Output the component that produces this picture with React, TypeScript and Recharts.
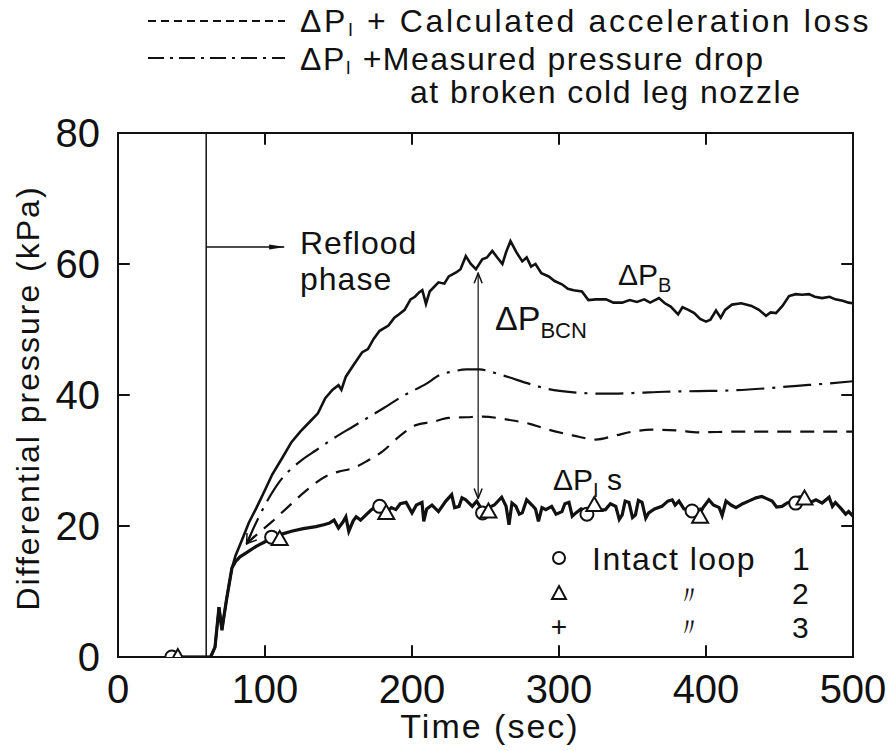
import React from "react";
import {
  ComposedChart,
  Line,
  Scatter,
  XAxis,
  YAxis,
  ReferenceLine,
  ReferenceArea,
} from "recharts";

const FONT = "'Liberation Sans', Arial, sans-serif";
const INK = "#111";

const xTicks = [0, 100, 200, 300, 400, 500];
const yTicks = [0, 20, 40, 60, 80];
const innerX = [100, 200, 300, 400];
const innerY = [20, 40, 60];

// time (s), kPa
const dpB: [number, number][] = [
  [40, 0], [60, 0], [63, 0], [66, 1.5], [68.7, 7.6], [70.7, 4.1], [72, 6.1], [74, 9], [77.5, 13.6],
  [80, 15.5], [84.4, 17.9], [89, 20.5], [94, 22.7], [100, 25.5], [105, 27.9], [112, 30.5], [118, 32.8],
  [124, 34.4], [130, 35.8], [136, 37.2], [141, 39.5], [146, 40.8], [150, 41.5], [152, 40.8], [155, 42.8],
  [160, 44.5], [166, 46.5], [170, 47], [174, 48.6], [178, 49.8], [184, 50.6], [188, 51.8], [191, 52.3],
  [195, 53], [199, 54.6], [202, 55], [205, 55.7], [207, 56], [209.5, 53.9], [212, 55.8], [218, 57.2],
  [222, 57], [225, 58.1], [230, 58.7], [233, 59.2], [236.6, 61.2], [240, 60], [243.5, 59.2], [247.8, 60.7],
  [251, 61], [254.6, 62], [258, 61], [261.5, 60], [264, 61.8], [267, 63.5], [271, 61.8], [275, 60.4],
  [278, 61], [281, 59.6], [284, 60], [288, 58.6], [293, 58.1], [297, 57.4], [302, 56.9], [306, 56.2],
  [310, 56], [315.6, 55.8], [320, 54.5], [325, 54.6], [332, 54.6], [337, 54.1], [343, 54.1], [348, 54.5],
  [353, 54.2], [358, 54.6], [362, 54.1], [368, 54.8], [372, 54], [376, 53.5], [381, 52.3], [384, 53.4],
  [388, 53], [392, 52.5], [396, 51.6], [400, 51.2], [403, 51.5], [406.8, 52.9], [410, 51.8], [413, 53],
  [417.7, 53.8], [424, 54], [431, 53.6], [436, 53], [440.8, 52.1], [444, 52.6], [447.6, 52.5], [452, 53.6],
  [456.5, 55.1], [461, 55.4], [465.3, 55.3], [470, 55.4], [474, 55], [479, 54.8], [484, 55], [488, 54.6],
  [493, 54.4], [497, 54.1], [500, 54],
];

const dpI: [number, number][] = [
  [40, 0], [60, 0], [63, 0], [66, 1.5], [68.7, 7.6], [70.7, 4.1], [72, 6.1], [74, 9], [77.5, 13.6],
  [80, 14.6], [83, 15.3], [88, 16], [94, 16.9], [100, 17.6], [106, 18.3], [112, 18.8], [118, 19.2],
  [126, 19.6], [134.6, 19.9], [140, 20.2], [143.5, 20.4], [147, 20.9], [150, 19.7], [153, 20.6], [155, 21.4],
  [157, 19.2], [160, 20.8], [162, 21.4], [165, 20.9], [168.7, 21.7], [172, 22.4], [175.5, 23], [179, 22.6],
  [183, 22.2], [186, 22.8], [189, 22.5], [192, 23.4], [196, 23.6], [200, 22], [203, 23.2], [206.8, 23.6],
  [208, 20.7], [210, 22.6], [213.6, 23.2], [218, 22.2], [223, 23.8], [227, 24.8], [229, 22.8], [232, 23],
  [234, 24.3], [236.6, 24], [241, 23], [244, 23.8], [247.6, 22.5], [252, 22.8], [256, 23.2], [261, 24.4],
  [264, 23], [266, 20.2], [268, 23.5], [270.7, 23], [273, 21.8], [275, 22], [278, 24], [281.6, 23.2],
  [284, 22.6], [286, 20.7], [288.4, 22.8], [291, 22.5], [295, 23], [298, 21.8], [302, 22.2], [304, 23.4],
  [306.8, 23.6], [309, 21.5], [311.5, 22], [315, 22.6], [319, 22.2], [323.8, 23.2], [327, 22.4], [331.6, 22.5],
  [335, 23.4], [338.6, 23], [341, 21], [343, 21.7], [345, 23.8], [347.6, 23.6], [350, 21.3], [352, 21.7],
  [354, 23.9], [356.5, 23.6], [359, 21.2], [361, 22], [365, 22.6], [370, 23], [374, 23.8], [377, 24],
  [379, 23.2], [381.6, 23.8], [385, 22.6], [390.5, 22.3], [395, 21.6], [398, 22.8], [402, 24], [405, 23.2],
  [409, 22.8], [411, 21.6], [413.6, 23.8], [417, 23.2], [420.4, 22.8], [425, 23.4], [429, 23.8], [434, 24.3],
  [438, 24.5], [442, 24.1], [445, 23.8], [448, 22.9], [451.7, 23], [455, 23.5], [458.5, 23.8], [463, 24.4],
  [468, 24.5], [471, 23.6], [474.8, 24], [479, 23.5], [483.7, 24.4], [486, 23], [488, 23.6], [492.5, 22.5],
  [495, 21.8], [497, 22.2], [500, 21.5],
];

// ΔPI + measured pressure drop at broken cold leg nozzle
const dpMeasured: [number, number][] = [
  [87.5, 17.3], [95, 21], [102, 24], [110, 26.8], [123.5, 29.8], [135, 31.6], [146, 33.3], [160, 35.2],
  [180, 37.9], [195, 40], [209.6, 41.7], [218.5, 43], [228, 43.6], [237, 43.9], [246, 43.9], [256, 43.4],
  [266, 42.7], [280, 41.7], [293, 40.9], [310, 40.4], [332, 40.2], [350, 40.3], [372, 40.5], [395, 40.6],
  [417, 40.7], [440, 41], [462, 41.4], [480, 41.7], [500, 42.1],
];

// ΔPI + calculated acceleration loss
const dpCalc: [number, number][] = [
  [87.5, 17.3], [95, 18.8], [105, 20.7], [114.6, 22.7], [128, 25.4], [141.5, 27.6], [150, 28.3],
  [159.6, 28.8], [170, 30], [180, 31.4], [191, 33.6], [202.6, 35.4], [214, 35.9], [225, 36.5], [237, 36.6],
  [248, 36.7], [266, 36.2], [280, 35.6], [293, 34.7], [310, 33.8], [325, 33.2], [338, 33.8], [350, 34.4],
  [363, 34.7], [380, 34.6], [395, 34.3], [420, 34.4], [450, 34.4], [480, 34.4], [500, 34.4],
];

const loop1: [number, number][] = [
  [36.6, 0], [104.5, 18.3], [178, 23], [248, 22], [319, 21.8], [390.5, 22.3], [461, 23.5],
];
const loop2: [number, number][] = [
  [40.7, 0], [110, 18], [182.5, 22], [252, 22.2], [324, 23.2], [396, 21.4], [467, 24.2],
];

const refloodStart = 60;
const refloodArrow = { from: 60, to: 113, at: 62.6 };
const bcnArrow = { t: 245, low: 24.2, high: 58.6 };

const pts = (a: [number, number][]) => a.map(([t, v]) => ({ t, v }));

const Circle = (p: any) => (
  <circle cx={p.cx} cy={p.cy} r={6.5} fill="#fff" stroke={INK} strokeWidth={2} />
);
const Tri = (p: any) => (
  <path
    d={`M${p.cx},${p.cy - 8} L${p.cx + 8},${p.cy + 6} L${p.cx - 8},${p.cy + 6} Z`}
    fill="#fff"
    stroke={INK}
    strokeWidth={2}
  />
);

function Sub({ x, y, main, sub, rest, size, subSize, spacing = 0, drop }: any) {
  const d = drop ?? subSize * 0.35;
  return (
    <text x={x} y={y} fontSize={size} fontFamily={FONT} fill={INK} letterSpacing={spacing}>
      {main}
      <tspan fontSize={subSize} dy={d}>{sub}</tspan>
      {rest ? <tspan dy={-d}>{rest}</tspan> : null}
    </text>
  );
}

export default function App() {
  return (
    <div style={{ position: "absolute", left: 0, top: 0, width: 894, height: 751, background: "#fff" }}>
      <svg width={0} height={0} style={{ position: "absolute" }}>
        <defs>
          <marker id="open" viewBox="0 0 12 12" refX="11" refY="6" markerWidth="12" markerHeight="12"
            markerUnits="userSpaceOnUse" orient="auto-start-reverse">
            <path d="M1,2 L11,6 L1,10" fill="none" stroke={INK} strokeWidth={1.5} />
          </marker>
          <marker id="solid" viewBox="0 0 16 8" refX="15" refY="4" markerWidth="16" markerHeight="8"
            markerUnits="userSpaceOnUse" orient="auto">
            <path d="M0,1.5 L16,4 L0,6.5 Z" fill={INK} />
          </marker>
        </defs>
      </svg>
      <ComposedChart width={894} height={751} margin={{ top: 133, right: 41, bottom: 64, left: 58 }}>
        <XAxis
          type="number"
          dataKey="t"
          domain={[0, 500]}
          ticks={xTicks}
          allowDataOverflow
          tickLine={false}
          tickSize={0}
          tickMargin={18}
          axisLine={{ stroke: INK, strokeWidth: 2 }}
          tick={{ fill: INK, fontSize: 40, fontFamily: FONT }}
          height={30}
        />
        <YAxis
          type="number"
          domain={[0, 80]}
          ticks={yTicks}
          allowDataOverflow
          tickLine={false}
          tickSize={0}
          tickMargin={18}
          axisLine={{ stroke: INK, strokeWidth: 2 }}
          tick={{ fill: INK, fontSize: 40, fontFamily: FONT }}
          width={60}
        />
        <ReferenceArea x1={0} x2={500} y1={0} y2={80} fill="none" stroke={INK} strokeWidth={2} ifOverflow="visible" />
        {innerX.map((x) => (
          <ReferenceLine key={"bx" + x} segment={[{ x, y: 0 }, { x, y: 1.8 }]} stroke={INK} strokeWidth={2} />
        ))}
        {innerX.map((x) => (
          <ReferenceLine key={"tx" + x} segment={[{ x, y: 80 }, { x, y: 78.2 }]} stroke={INK} strokeWidth={2} />
        ))}
        {innerY.map((y) => (
          <ReferenceLine key={"ly" + y} segment={[{ x: 0, y }, { x: 8, y }]} stroke={INK} strokeWidth={2} />
        ))}
        {innerY.map((y) => (
          <ReferenceLine key={"ry" + y} segment={[{ x: 500, y }, { x: 492, y }]} stroke={INK} strokeWidth={2} />
        ))}
        <ReferenceLine x={refloodStart} stroke={INK} strokeWidth={1.5} />
        <ReferenceLine
          segment={[{ x: refloodArrow.from, y: refloodArrow.at }, { x: refloodArrow.to, y: refloodArrow.at }]}
          stroke={INK}
          strokeWidth={1.5}
          markerEnd="url(#solid)"
        />
        <ReferenceLine
          segment={[{ x: bcnArrow.t, y: bcnArrow.low }, { x: bcnArrow.t, y: bcnArrow.high }]}
          stroke={INK}
          strokeWidth={1.2}
          markerStart="url(#open)"
          markerEnd="url(#open)"
        />
        <Line data={pts(dpCalc)} dataKey="v" type="monotone" stroke={INK} strokeWidth={2.2}
          strokeDasharray="14 9" dot={false} isAnimationActive={false} markerStart="url(#open)" />
        <Line data={pts(dpMeasured)} dataKey="v" type="monotone" stroke={INK} strokeWidth={2.2}
          strokeDasharray="28 8 3 8" dot={false} isAnimationActive={false} markerStart="url(#open)" />
        <Line data={pts(dpB)} dataKey="v" type="linear" stroke={INK} strokeWidth={2.6}
          dot={false} isAnimationActive={false} />
        <Line data={pts(dpI)} dataKey="v" type="linear" stroke={INK} strokeWidth={3.2}
          dot={false} isAnimationActive={false} />
        <Scatter data={pts(loop1)} dataKey="v" shape={Circle} isAnimationActive={false} />
        <Scatter data={pts(loop2)} dataKey="v" shape={Tri} isAnimationActive={false} />
      </ComposedChart>
      <svg
        width={894}
        height={751}
        style={{ position: "absolute", left: 0, top: 0, pointerEvents: "none" }}
        fontFamily={FONT}
      >
        <line x1={148} y1={21} x2={285} y2={21} stroke={INK} strokeWidth={2} strokeDasharray="8 5" />
        <Sub x={300} y={32} main="ΔP" sub="I" rest=" + Calculated acceleration loss" size={32} subSize={18} drop={4} spacing={2.6} />
        <line x1={148} y1={58} x2={285} y2={58} stroke={INK} strokeWidth={2} strokeDasharray="16 6 3 6" />
        <Sub x={300} y={70} main="ΔP" sub="I" rest=" +Measured pressure drop" size={32} subSize={18} drop={4} spacing={1.5} />
        <text x={410} y={103} fontSize={32} fill={INK} letterSpacing={1.5}>at broken cold leg nozzle</text>

        <text x={300} y={254} fontSize={32} fill={INK} letterSpacing={1}>Reflood</text>
        <text x={300} y={290} fontSize={32} fill={INK} letterSpacing={1}>phase</text>

        <Sub x={618} y={285} main="ΔP" sub="B" size={30} subSize={20} />
        <Sub x={495} y={330} main="ΔP" sub="BCN" size={34} subSize={22} />
        <Sub x={553} y={490} main="ΔP" sub="I" rest="  s" size={30} subSize={20} />

        <circle cx={559} cy={558} r={6} fill="none" stroke={INK} strokeWidth={2} />
        <text x={592} y={570} fontSize={32} fill={INK} letterSpacing={1.5}>Intact loop</text>
        <text x={792} y={570} fontSize={32} fill={INK}>1</text>
        <path d="M559,586 L566,599 L552,599 Z" fill="none" stroke={INK} strokeWidth={2} />
        <text x={676} y={604} fontSize={26} fill={INK}>〃</text>
        <text x={792} y={604} fontSize={30} fill={INK}>2</text>
        <text x={559} y={636} fontSize={28} fill={INK} textAnchor="middle">+</text>
        <text x={676} y={636} fontSize={26} fill={INK}>〃</text>
        <text x={792} y={638} fontSize={30} fill={INK}>3</text>

        <text x={28} y={398} fontSize={32} fill={INK} textAnchor="middle" letterSpacing={2}
          transform="rotate(-90 28 398)" dominantBaseline="central">
          Differential pressure (kPa)
        </text>
        <text x={490} y={738} fontSize={34} fill={INK} textAnchor="middle" letterSpacing={2}>
          Time (sec)
        </text>
      </svg>
    </div>
  );
}
